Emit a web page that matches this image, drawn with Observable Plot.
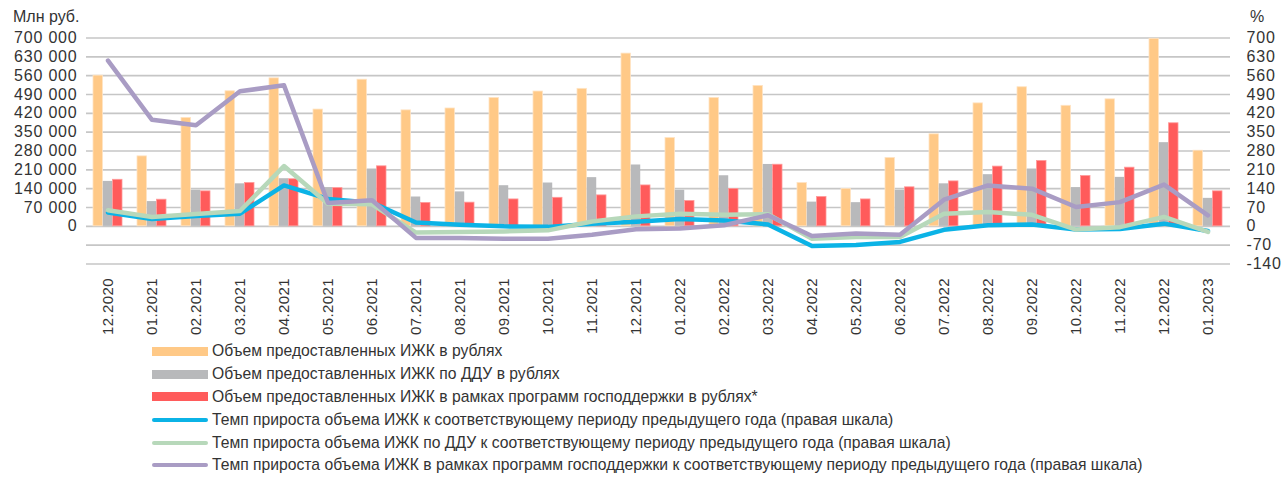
<!DOCTYPE html>
<html>
<head>
<meta charset="utf-8">
<script src="https://cdn.jsdelivr.net/npm/d3@7"></script>
<script src="https://cdn.jsdelivr.net/npm/@observablehq/plot@0.6"></script>
<style>
  body { margin: 0; background: #fff; font-family: "Liberation Sans", Arial, sans-serif; color: #333; }
  #wrap { position: relative; width: 1285px; height: 480px; overflow: hidden; }
  .hdr { position: relative; height: 30px; font-size: 16px; }
  .hdr span { position: absolute; top: 7px; line-height: 20px; }
  #chart svg { display: block; }
  g[aria-label="x-axis tick label"] text { letter-spacing: 0.4px; }
  g[aria-label="y-axis tick label"] text { letter-spacing: 0.8px; }
  #legend { position: relative; padding-left: 152px; font-size: 15.7px; }
  .row { height: 22.8px; display: flex; align-items: center; }
  .sw { width: 56px; margin-right: 4px; flex: none; }
</style>
</head>
<body>
<div id="wrap">
  <div class="hdr"><span style="left:13px">Млн руб.</span><span style="left:1250px">%</span></div>
  <div id="chart"></div>
  <div id="legend"></div>
</div>
<script>
const categories = ["12.2020","01.2021","02.2021","03.2021","04.2021","05.2021","06.2021","07.2021","08.2021","09.2021","10.2021","11.2021","12.2021","01.2022","02.2022","03.2022","04.2022","05.2022","06.2022","07.2022","08.2022","09.2022","10.2022","11.2022","12.2022","01.2023"];

// Млн руб. (left scale)
const volumeTotal = [560000,260000,403000,502000,550000,434000,545000,431000,438000,477000,501000,511000,642000,328000,477000,522000,161000,139000,254000,342000,457000,517000,448000,472000,697000,281000];
const volumeDdu   = [167000,92000,134000,158000,177000,144000,213000,109000,128000,151000,161000,181000,228000,134000,188000,230000,90000,88000,134000,158000,192000,213000,144000,182000,311000,104000];
const volumeGov   = [173000,99000,130000,161000,175000,142000,223000,87000,88000,100000,106000,115000,152000,94000,139000,229000,109000,100000,145000,167000,222000,243000,187000,218000,383000,130000];

// % (right scale)
const growthTotal = [51,27,38,47,152,102,88,14,6,0,-2,10,17,27,22,7,-73,-69,-58,-13,4,7,-12,-10,10,-17];
const growthDdu   = [60,35,46,57,224,84,82,-23,-21,-19,-15,18,37,47,43,45,-46,-40,-40,47,53,43,-12,-3,35,-21];
const growthGov   = [616,396,376,502,524,87,97,-43,-43,-46,-46,-31,-11,-8,4,41,-36,-27,-31,99,152,140,72,90,155,41];

const leftTicks  = [0,70000,140000,210000,280000,350000,420000,490000,560000,630000,700000];
const rightTicks = [-140,-70,0,70,140,210,280,350,420,490,560,630,700];

const seriesNames = [
  "Объем предоставленных ИЖК в рублях",
  "Объем предоставленных ИЖК по ДДУ в рублях",
  "Объем предоставленных ИЖК в рамках программ господдержки в рублях*",
  "Темп прироста объема ИЖК к соответствующему периоду предыдущего года (правая шкала)",
  "Темп прироста объема ИЖК по ДДУ к соответствующему периоду предыдущего года (правая шкала)",
  "Темп прироста объема ИЖК в рамках программ господдержки к соответствующему периоду предыдущего года (правая шкала)"
];
const colors = ["#ffc987","#b8b9bb","#ff5b5b","#0bb3e6","#b7d8ba","#a99cc4"];

// right scale (%) is mapped on the left scale: 1% = 1000 млн руб.
const K = 1000;
const rows = categories.map((c, i) => ({
  c,
  vol: volumeTotal[i], ddu: volumeDdu[i], gov: volumeGov[i],
  gT: growthTotal[i] * K, gD: growthDdu[i] * K, gG: growthGov[i] * K
}));

const fmt = d3.formatLocale({thousands: " ", grouping: [3], decimal: ",", currency: ["", ""]}).format(",d");

const W = 1285, mL = 86, mR = 55;
const pInner = 1/3;
const step = (W - mL - mR) / categories.length;
const bw = step * (1 - pInner);
const barW = bw / 3;

const chart = Plot.plot({
  width: W,
  height: 310,
  marginTop: 7.5,
  marginBottom: 76.5,
  marginLeft: mL,
  marginRight: mR,
  style: {fontFamily: '"Liberation Sans", Arial, sans-serif', fontSize: "16px", color: "#333", background: "#fff"},
  x: {type: "band", domain: categories, paddingInner: pInner, paddingOuter: pInner / 2},
  y: {domain: [-140000, 700000]},
  marks: [
    Plot.ruleY(rightTicks.map(d => d * K), {stroke: "#c6c6c6", strokeWidth: 1.6}),
    Plot.barY(rows, {x: "c", y: "vol", fill: colors[0], stroke: "#ffe3c2", strokeWidth: 0.8, insetRight: 2 * barW}),
    Plot.barY(rows, {x: "c", y: "ddu", fill: colors[1], insetLeft: barW, insetRight: barW}),
    Plot.barY(rows, {x: "c", y: "gov", fill: colors[2], stroke: "#ff9a9a", strokeWidth: 0.8, insetLeft: 2 * barW}),
    Plot.lineY(rows, {x: "c", y: "gT", stroke: colors[3], strokeWidth: 4.5, strokeLinejoin: "round"}),
    Plot.lineY(rows, {x: "c", y: "gD", stroke: colors[4], strokeWidth: 4.5, strokeLinejoin: "round"}),
    Plot.lineY(rows, {x: "c", y: "gG", stroke: colors[5], strokeWidth: 4.5, strokeLinejoin: "round"}),
    Plot.axisY(leftTicks, {anchor: "left", tickSize: 0, tickPadding: 9, tickFormat: fmt, label: null, fontSize: 16, fill: "#333"}),
    Plot.axisY(rightTicks.map(d => d * K), {anchor: "right", tickSize: 0, tickPadding: 16, tickFormat: d => String(d / K), label: null, fontSize: 16, fill: "#333"}),
    Plot.axisX({anchor: "bottom", tickSize: 0, tickRotate: -90, tickPadding: 14, label: null, fontSize: 15, fill: "#333"})
  ]
});
document.getElementById("chart").appendChild(chart);

// legend
const legend = document.getElementById("legend");
seriesNames.forEach((name, i) => {
  const row = document.createElement("div");
  row.className = "row";
  const sw = document.createElement("div");
  sw.className = "sw";
  sw.style.background = colors[i];
  sw.style.height = i < 3 ? "9px" : "4px";
  sw.style.borderRadius = i < 3 ? "0" : "2px";
  const t = document.createElement("span");
  t.textContent = name;
  row.appendChild(sw);
  row.appendChild(t);
  legend.appendChild(row);
});
</script>
</body>
</html>
